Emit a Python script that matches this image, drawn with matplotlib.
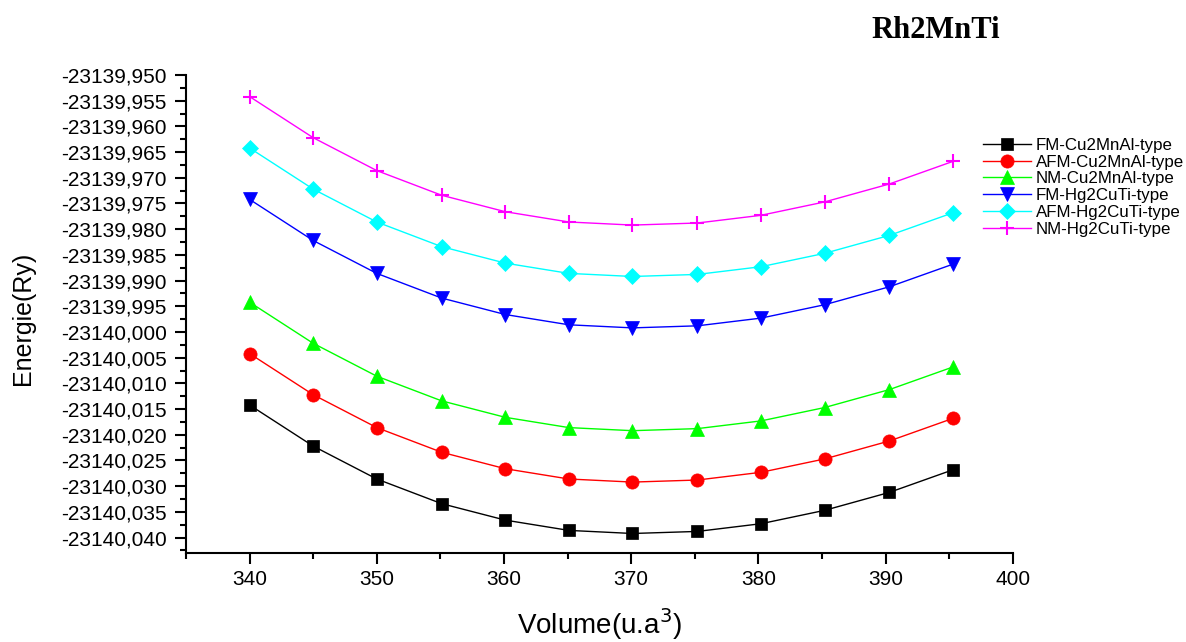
'''
Rh2MnTi energy vs volume curves
'''
import matplotlib.pyplot as plt
from matplotlib.ticker import MultipleLocator, FuncFormatter

# Volume (u.a^3)
volume = [340.0, 345.0, 350.0, 355.1, 360.1, 365.1, 370.1, 375.2, 380.2, 385.2, 390.3, 395.3]

# Energies (Ry)
fm_cu2mnal = [-23140.0142, -23140.0222, -23140.0286, -23140.0334, -23140.0366, -23140.0386,
              -23140.0392, -23140.0388, -23140.0373, -23140.0347, -23140.0312, -23140.0268]
afm_cu2mnal = [-23140.0042, -23140.0122, -23140.0186, -23140.0234, -23140.0266, -23140.0286,
               -23140.0292, -23140.0288, -23140.0273, -23140.0247, -23140.0212, -23140.0168]
nm_cu2mnal = [-23139.9942, -23140.0022, -23140.0086, -23140.0134, -23140.0166, -23140.0186,
              -23140.0192, -23140.0188, -23140.0173, -23140.0147, -23140.0112, -23140.0068]
fm_hg2cuti = [-23139.9742, -23139.9822, -23139.9886, -23139.9934, -23139.9966, -23139.9986,
              -23139.9992, -23139.9988, -23139.9973, -23139.9947, -23139.9912, -23139.9868]
afm_hg2cuti = [-23139.9642, -23139.9722, -23139.9786, -23139.9834, -23139.9866, -23139.9886,
               -23139.9892, -23139.9888, -23139.9873, -23139.9847, -23139.9812, -23139.9768]
nm_hg2cuti = [-23139.9542, -23139.9622, -23139.9686, -23139.9734, -23139.9766, -23139.9786,
              -23139.9792, -23139.9788, -23139.9773, -23139.9747, -23139.9712, -23139.9668]

plt.rcParams['font.family'] = ['Liberation Sans', 'DejaVu Sans']

fig = plt.figure(figsize=(11.86, 6.42), dpi=100)
ax = fig.add_axes([0.1568, 0.1386, 0.6972, 0.7446])

series = [
    (fm_cu2mnal, 'black', 's', 9, 'FM-Cu2MnAl-type'),
    (afm_cu2mnal, 'red', 'o', 9.5, 'AFM-Cu2MnAl-type'),
    (nm_cu2mnal, '#00ff00', '^', 10.5, 'NM-Cu2MnAl-type'),
    (fm_hg2cuti, 'blue', 'v', 10.5, 'FM-Hg2CuTi-type'),
    (afm_hg2cuti, 'cyan', 'D', 8.5, 'AFM-Hg2CuTi-type'),
    (nm_hg2cuti, 'magenta', '+', 10, 'NM-Hg2CuTi-type'),
]
for values, color, marker, size, label in series:
    ax.plot(volume, values, color=color, marker=marker, markersize=size,
            linewidth=1, markeredgewidth=1.5 if marker == '+' else 0.5,
            markeredgecolor=color, label=label)

ax.set_xlim(335, 400)
ax.set_ylim(-23140.043, -23139.950)
ax.xaxis.set_major_locator(MultipleLocator(10))
ax.xaxis.set_minor_locator(MultipleLocator(5))
ax.yaxis.set_major_locator(MultipleLocator(0.005))
ax.yaxis.set_minor_locator(MultipleLocator(0.0025))
ax.yaxis.set_major_formatter(FuncFormatter(lambda v, p: f'{v:.3f}'.replace('.', ',')))
ax.spines['top'].set_visible(False)
ax.spines['right'].set_visible(False)
ax.spines['left'].set_linewidth(1.5)
ax.spines['bottom'].set_linewidth(1.5)
ax.tick_params(which='major', direction='out', length=8, width=1.5)
ax.tick_params(which='minor', direction='out', length=4, width=1.5)
ax.tick_params(axis='y', labelsize=15, pad=6)
ax.tick_params(axis='x', labelsize=15, pad=4)

ax.set_xlabel('Volume(u.a$^3$)', fontsize=20, va='center')
ax.xaxis.set_label_coords(0.5, -0.148)
ax.set_ylabel('Energie(Ry)', fontsize=18, va='center')
ax.yaxis.set_label_coords(-0.197, 0.49)
fig.text(0.735, 0.953, 'Rh2MnTi', fontsize=22, fontweight='bold',
         family='Liberation Serif', va='center')

fig.legend(loc='upper left', bbox_to_anchor=(0.829, 0.785), frameon=False,
           fontsize=12.2, labelspacing=0.1, handlelength=2.8, handletextpad=0.3,
           borderaxespad=0, borderpad=0, markerscale=1.0)

plt.savefig('out.png', dpi=100)
